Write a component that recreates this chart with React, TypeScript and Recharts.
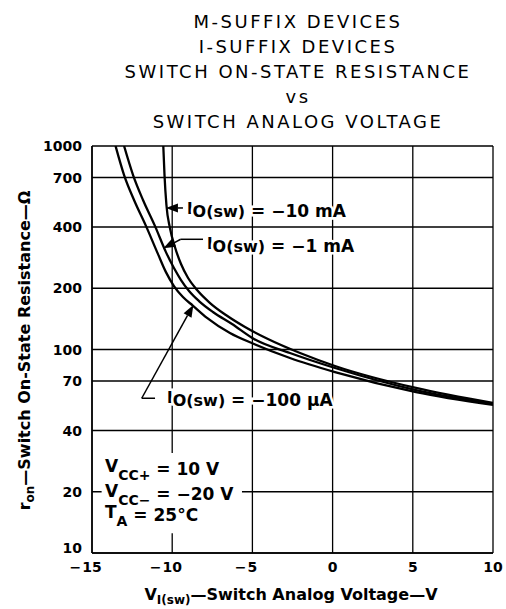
import React from "react";
import {
  LineChart,
  Line,
  XAxis,
  YAxis,
  CartesianGrid,
  ReferenceLine,
  ReferenceDot,
  ReferenceArea,
} from "recharts";

const FONT = "DejaVu Sans";

const titleLines = [
  "M-SUFFIX DEVICES",
  "I-SUFFIX DEVICES",
  "SWITCH ON-STATE RESISTANCE",
  "vs",
  "SWITCH ANALOG VOLTAGE",
];

const xTicks = [-15, -10, -5, 0, 5, 10];
const yTicks = [10, 20, 40, 70, 100, 200, 400, 700, 1000];

// IO(sw) = -10 mA
const v10mA = [-10.555, -10.48, -10.36, -10.14, -9.83, -9.45, -9.01, -8.45, -7.64, -6.65, -5.46, -4.03, -2.03, 0.15, 5.2, 10];
const r10mA = [1000, 720, 513, 395, 319, 263, 224.6, 196, 169.2, 147.7, 129, 112.6, 96.1, 83, 64.7, 54.6];

// IO(sw) = -1 mA
const v1mA = [-13.0, -12.44, -11.82, -11.07, -10.39, -9.89, -9.45, -8.95, -8.33, -7.46, -6.27, -4.9, -2.66, 0.15, 5.2, 10];
const r1mA = [1000, 720, 543, 404, 301, 251.5, 219.5, 193.9, 173, 152.9, 133.4, 112.6, 96.1, 81.1, 63.2, 54];

// IO(sw) = -100 uA
const v100uA = [-13.53, -13.0, -12.38, -11.63, -10.89, -10.39, -9.89, -9.33, -8.7, -7.83, -6.4, -4.9, -2.66, 0.15, 5.2, 10];
const r100uA = [1000, 720, 543, 404, 295, 240, 205, 181, 164, 143, 120.5, 106.4, 90.8, 77.5, 61.8, 53.4];

const toPoints = (v: number[], r: number[]) => v.map((x, i) => ({ v: x, r: r[i] }));

function XTick({ x, y, payload }: any) {
  const n = payload.value as number;
  const digits = String(Math.abs(n));
  const w = digits.length * 0.696 * 14;
  return (
    <g>
      <text x={x} y={y} dy="0.72em" textAnchor="middle" fontFamily={FONT} fontWeight="bold" fontSize={14} fill="#000">
        {digits}
      </text>
      {n < 0 && (
        <text x={x - w / 2 - 1} y={y} dy="0.72em" textAnchor="end" fontFamily={FONT} fontWeight="bold" fontSize={14} fill="#000">
          −
        </text>
      )}
    </g>
  );
}

function YTick({ x, y, payload }: any) {
  const lift = payload.value === 10 ? -5 : 0;
  return (
    <text x={x} y={y + lift} dy="0.36em" textAnchor="end" fontFamily={FONT} fontWeight="bold" fontSize={14} fill="#000">
      {payload.value}
    </text>
  );
}

const arrowShape = (p: any) => {
  const { x1, y1, x2, y2 } = p;
  const a = Math.atan2(y2 - y1, x2 - x1);
  const len = 12;
  const half = 4.5;
  const bx = x2 - len * Math.cos(a);
  const by = y2 - len * Math.sin(a);
  const pts = [
    [x2, y2],
    [bx - half * Math.sin(a), by + half * Math.cos(a)],
    [bx + half * Math.sin(a), by - half * Math.cos(a)],
  ]
    .map((q) => q.join(","))
    .join(" ");
  return (
    <g>
      <line x1={x1} y1={y1} x2={bx} y2={by} stroke="#000" strokeWidth={1.5} />
      <polygon points={pts} fill="#000" />
    </g>
  );
};

const ioLabel = (value: string) => (p: any) => (
  <text
    x={p.cx}
    y={p.cy}
    fontFamily={FONT}
    fontWeight="bold"
    fontSize={17}
    fill="#000"
    stroke="#fff"
    strokeWidth={5}
    paintOrder="stroke"
  >
    <tspan dy={-3} fontSize={15}>I</tspan>
    <tspan dy={3} fontSize={16}>O(sw)</tspan>
    <tspan>{` = ${value}`}</tspan>
  </text>
);

const condLabel = (lead: string, sub: string, rest: string) => (p: any) => (
  <text x={p.cx} y={p.cy} fontFamily={FONT} fontWeight="bold" fontSize={17} fill="#000">
    <tspan dy={-3}>{lead}</tspan>
    <tspan dy={8} fontSize={14}>{sub}</tspan>
    <tspan dy={-5}>{rest}</tspan>
  </text>
);

export default function App() {
  return (
    <div
      style={{
        position: "absolute",
        left: 0,
        top: 0,
        width: 506,
        height: 609,
        background: "#fff",
        fontFamily: FONT,
        color: "#000",
      }}
    >
      <div
        style={{
          position: "absolute",
          left: 0,
          top: 9,
          width: 596,
          textAlign: "center",
          fontSize: 18,
          lineHeight: "25px",
          letterSpacing: 2.5,
        }}
      >
        {titleLines.map((t) => (
          <div key={t}>{t}</div>
        ))}
      </div>

      <LineChart width={506} height={609} margin={{ top: 146, right: 13, bottom: 26, left: 30 }}>
        <CartesianGrid stroke="#000" strokeWidth={1.3} />
        <XAxis
          type="number"
          dataKey="v"
          domain={[-15, 10]}
          ticks={xTicks}
          allowDataOverflow
          height={30}
          tickLine={false}
          tickSize={0}
          tickMargin={9}
          axisLine={{ stroke: "#000", strokeWidth: 1.5 }}
          tick={<XTick />}
        />
        <YAxis
          type="number"
          scale="log"
          domain={[10, 1000]}
          ticks={yTicks}
          allowDataOverflow
          width={62}
          tickLine={false}
          tickSize={0}
          tickMargin={10}
          axisLine={{ stroke: "#000", strokeWidth: 1.5 }}
          tick={<YTick />}
        />

        <ReferenceArea x1={-14.4} x2={-5.65} y1={12.5} y2={31} fill="#fff" fillOpacity={1} stroke="none" />

        <Line data={toPoints(v100uA, r100uA)} dataKey="r" type="monotone" stroke="#000" strokeWidth={2.3} dot={false} isAnimationActive={false} />
        <Line data={toPoints(v1mA, r1mA)} dataKey="r" type="monotone" stroke="#000" strokeWidth={2.3} dot={false} isAnimationActive={false} />
        <Line data={toPoints(v10mA, r10mA)} dataKey="r" type="monotone" stroke="#000" strokeWidth={2.3} dot={false} isAnimationActive={false} />

        {/* -10 mA leader */}
        <ReferenceLine segment={[{ x: -9.33, y: 496 }, { x: -10.39, y: 496 }]} shape={arrowShape} />
        <ReferenceDot x={-9.08} y={450} shape={ioLabel("−10 mA")} />

        {/* -1 mA leader */}
        <ReferenceLine segment={[{ x: -8.08, y: 348 }, { x: -9.47, y: 348 }]} stroke="#000" strokeWidth={1.5} />
        <ReferenceLine segment={[{ x: -9.47, y: 348 }, { x: -10.55, y: 314 }]} shape={arrowShape} />
        <ReferenceDot x={-7.83} y={303} shape={ioLabel("−1 mA")} />

        {/* -100 uA leader */}
        <ReferenceLine segment={[{ x: -11.07, y: 57.6 }, { x: -11.9, y: 57.6 }]} stroke="#000" strokeWidth={1.5} />
        <ReferenceLine segment={[{ x: -11.9, y: 57.6 }, { x: -8.68, y: 165.5 }]} shape={arrowShape} />
        <ReferenceDot x={-10.32} y={52.5} shape={ioLabel("−100 µA")} />

        <ReferenceDot x={-14.19} y={24.2} shape={condLabel("V", "CC+", " = 10 V")} />
        <ReferenceDot x={-14.19} y={18.3} shape={condLabel("V", "CC−", " = −20 V")} />
        <ReferenceDot x={-14.19} y={14.3} shape={condLabel("T", "A", " = 25°C")} />
      </LineChart>

      <div
        style={{
          position: "absolute",
          left: 41,
          top: 585,
          width: 500,
          textAlign: "center",
          fontSize: 16,
          fontWeight: "bold",
          lineHeight: "20px",
        }}
      >
        V<span style={{ fontSize: 12, position: "relative", top: 4 }}>I(sw)</span>—Switch Analog Voltage—V
      </div>

      <div
        style={{
          position: "absolute",
          left: 25 - 200,
          top: 350 - 10,
          width: 400,
          textAlign: "center",
          fontSize: 16,
          fontWeight: "bold",
          lineHeight: "20px",
          transform: "rotate(-90deg)",
        }}
      >
        r<span style={{ fontSize: 12, position: "relative", top: 4 }}>on</span>—Switch On-State Resistance—Ω
      </div>
    </div>
  );
}
